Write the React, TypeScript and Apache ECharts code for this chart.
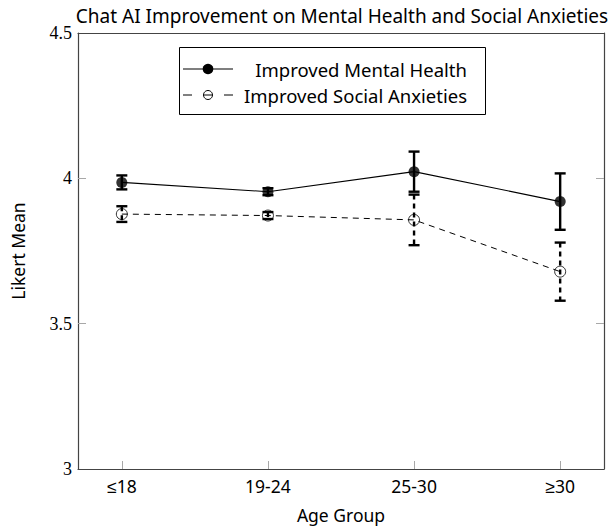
import React, { useEffect, useRef } from "react";
import * as echarts from "echarts";

// Age groups on the x axis
const ageGroups = ["≤18", "19-24", "25-30", "≥30"];
// Likert means and error half-widths per age group
const mentalHealthMean = [3.986, 3.954, 4.023, 3.92];
const mentalHealthErr = [0.024, 0.012, 0.069, 0.097];
const socialAnxietyMean = [3.877, 3.872, 3.857, 3.679];
const socialAnxietyErr = [0.027, 0.012, 0.087, 0.1];
const yTicks = [3, 3.5, 4, 4.5];

const SANS = "'Noto Sans', sans-serif";
const SERIF = "'Liberation Serif', 'DejaVu Serif', serif";

const errorBarSeries = (name: string, means: number[], errs: number[], dashed: boolean) => ({
  type: "custom",
  name,
  z: 3,
  data: means.map((m, i) => [i, m, errs[i]]),
  renderItem: (_params: any, api: any) => {
    const x = api.value(0);
    const y = api.value(1);
    const e = api.value(2);
    const top = api.coord([x, y + e]);
    const bot = api.coord([x, y - e]);
    const hw = 5.5;
    const style = { stroke: "#000", lineWidth: 2.4, lineDash: dashed ? [5, 4] : null };
    const capStyle = { stroke: "#000", lineWidth: 2.4 };
    return {
      type: "group",
      children: [
        { type: "line", shape: { x1: top[0], y1: top[1], x2: bot[0], y2: bot[1] }, style },
        { type: "line", shape: { x1: top[0] - hw, y1: top[1], x2: top[0] + hw, y2: top[1] }, style: capStyle },
        { type: "line", shape: { x1: bot[0] - hw, y1: bot[1], x2: bot[0] + hw, y2: bot[1] }, style: capStyle },
      ],
    };
  },
});

export default function App() {
  const ref = useRef<HTMLDivElement>(null);

  useEffect(() => {
    if (!ref.current) return;
    const chart = echarts.init(ref.current, null, { renderer: "svg" });

    const grid = { left: 78, right: 9, top: 33, bottom: 61 };
    const tickStyle = { show: true, inside: true, length: 8, lineStyle: { color: "#a8a8a8", width: 1 } };
    const axisLine = { show: true, onZero: false, lineStyle: { color: "#444", width: 1.2 } };

    chart.setOption({
      animation: false,
      backgroundColor: "#fff",
      title: {
        text: "Chat AI Improvement on Mental Health and Social Anxieties",
        left: 337,
        top: 1,
        textAlign: "center",
        textStyle: { fontFamily: SANS, fontSize: 19, fontWeight: "normal", color: "#000" },
      },
      grid,
      xAxis: [
        {
          type: "value",
          min: -0.3,
          max: 3.3,
          name: "Age Group",
          nameLocation: "middle",
          nameGap: 37,
          nameTextStyle: { fontFamily: SANS, fontSize: 17.5, color: "#000" },
          axisLine,
          axisTick: { ...tickStyle, customValues: [0, 1, 2, 3] },
          axisLabel: {
            customValues: [0, 1, 2, 3],
            formatter: (v: number) => ageGroups[Math.round(v)],
            fontFamily: SANS,
            fontSize: 17.5,
            color: "#000",
            margin: 8,
          },
          splitLine: { show: false },
        },
        {
          type: "value",
          position: "top",
          min: -0.3,
          max: 3.3,
          axisLine,
          axisTick: { show: false },
          axisLabel: { show: false },
          splitLine: { show: false },
        },
      ],
      yAxis: [
        {
          type: "value",
          min: 3,
          max: 4.5,
          interval: 0.5,
          name: "Likert Mean",
          nameLocation: "middle",
          nameGap: 51,
          nameTextStyle: { fontFamily: SANS, fontSize: 17.5, color: "#000" },
          axisLine,
          axisTick: { ...tickStyle, customValues: [3.5, 4] },
          axisLabel: {
            customValues: yTicks,
            formatter: (v: number) => String(v),
            fontFamily: SERIF,
            fontSize: 18,
            color: "#000",
            margin: 6,
          },
          splitLine: { show: false },
        },
        {
          type: "value",
          position: "right",
          min: 3,
          max: 4.5,
          interval: 0.5,
          axisLine,
          axisTick: { ...tickStyle, customValues: [3.5, 4] },
          axisLabel: { show: false },
          splitLine: { show: false },
        },
      ],
      series: [
        {
          type: "line",
          name: "Improved Mental Health",
          z: 2,
          data: mentalHealthMean.map((m, i) => [i, m]),
          symbol: "none",
          lineStyle: { color: "#000", width: 1.1 },
        },
        {
          type: "line",
          name: "Improved Social Anxieties",
          z: 2,
          data: socialAnxietyMean.map((m, i) => [i, m]),
          symbol: "none",
          lineStyle: { color: "#000", width: 1, type: [6, 5] },
        },
        errorBarSeries("Mental Health error", mentalHealthMean, mentalHealthErr, false),
        errorBarSeries("Social Anxieties error", socialAnxietyMean, socialAnxietyErr, true),
        {
          type: "scatter",
          name: "Mental Health mean",
          z: 4,
          data: mentalHealthMean.map((m, i) => [i, m]),
          symbol: "circle",
          symbolSize: 11,
          itemStyle: { color: "#000" },
        },
        {
          type: "scatter",
          name: "Social Anxieties mean",
          z: 4,
          data: socialAnxietyMean.map((m, i) => [i, m]),
          symbol: "circle",
          symbolSize: 11,
          itemStyle: { color: "rgba(0,0,0,0)", borderColor: "#000", borderWidth: 1 },
        },
      ],
      graphic: [
        {
          type: "group",
          z: 10,
          children: [
            { type: "rect", shape: { x: 179.5, y: 47.5, width: 306, height: 67 }, style: { fill: "#fff", stroke: "#000", lineWidth: 1 } },
            { type: "line", shape: { x1: 183, y1: 69, x2: 233, y2: 69 }, style: { stroke: "#000", lineWidth: 1.1 } },
            { type: "circle", shape: { cx: 208, cy: 69, r: 5.3 }, style: { fill: "#000" } },
            {
              type: "text",
              x: 467,
              y: 69,
              style: { text: "Improved Mental Health", fontFamily: SANS, fontSize: 18.5, fill: "#000", textAlign: "right", textVerticalAlign: "middle" },
            },
            { type: "line", shape: { x1: 183, y1: 95, x2: 192, y2: 95 }, style: { stroke: "#000", lineWidth: 1 } },
            { type: "line", shape: { x1: 204, y1: 95, x2: 212, y2: 95 }, style: { stroke: "#000", lineWidth: 1 } },
            { type: "line", shape: { x1: 224, y1: 95, x2: 233, y2: 95 }, style: { stroke: "#000", lineWidth: 1 } },
            { type: "circle", shape: { cx: 208, cy: 95, r: 4.5 }, style: { fill: "none", stroke: "#000", lineWidth: 1 } },
            {
              type: "text",
              x: 467,
              y: 95,
              style: { text: "Improved Social Anxieties", fontFamily: SANS, fontSize: 18.5, fill: "#000", textAlign: "right", textVerticalAlign: "middle" },
            },
          ],
        },
      ],
    });

    return () => chart.dispose();
  }, []);

  return <div ref={ref} style={{ position: "fixed", left: 0, top: 0, width: 613, height: 530 }} />;
}
